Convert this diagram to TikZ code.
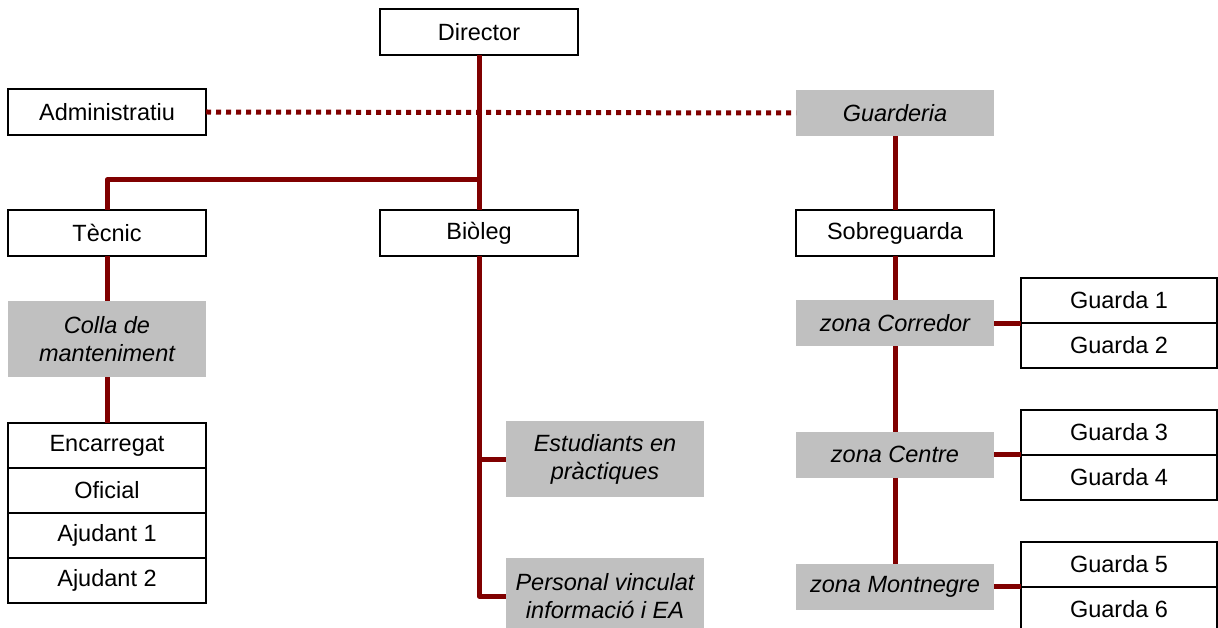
\documentclass[tikz,border=0pt]{standalone}
\usepackage{fontspec}
\setmainfont{Liberation Sans}
\definecolor{linkred}{RGB}{128,0,0}
\definecolor{boxgray}{RGB}{192,192,192}
\tikzset{
  post/.style={draw, line width=2pt, fill=white, minimum width=198pt, minimum height=46pt,
    inner sep=0pt, outer sep=0pt, font=\fontsize{23.5}{28}\selectfont},
  unit/.style={fill=boxgray, minimum width=198pt, minimum height=46pt, inner sep=0pt,
    outer sep=0pt, align=center, font=\fontsize{23.5}{28}\selectfont\itshape},
  link/.style={draw=linkred, line width=5pt, line join=round},
  dotlink/.style={draw=linkred, line width=5pt, dash pattern=on 5pt off 5pt}
}
\begin{document}
\begin{tikzpicture}[x=1pt,y=-1pt]
  \clip (0,0) rectangle (1218,628);

  % top row
  \node[post] (dir)   at (479,32)  {Director};
  \node[post] (adm)   at (107,112) {Administratiu};
  \node[unit] (guard) at (895,113) {Guarderia};

  % second row
  \node[post] (tec)   at (107,233) {Tècnic};
  \node[post] (bio)   at (479,233) {Biòleg};
  \node[post] (sobre) at (895,233) {Sobreguarda};

  % Tècnic branch
  \node[unit, minimum height=76pt] (colla) at (107,339) {Colla de\\manteniment};
  \node[post, minimum height=45pt] (enc) at (107,445.5) {Encarregat};
  \node[post, minimum height=45pt] (ofi) at (107,490.5) {Oficial};
  \node[post, minimum height=45pt] (aj1) at (107,535.5) {Ajudant 1};
  \node[post, minimum height=45pt] (aj2) at (107,580.5) {Ajudant 2};

  % Biòleg branch
  \node[unit, minimum height=76pt] (est)  at (605,459) {Estudiants en\\pràctiques};
  \node[unit, minimum height=76pt] (pers) at (605,596) {Personal vinculat\\informació i EA};

  % zones
  \node[unit] (zcor) at (895,323)   {zona Corredor};
  \node[unit] (zcen) at (895,454.5) {zona Centre};
  \node[unit] (zmon) at (895,586.5) {zona Montnegre};

  % guards
  \node[post, minimum width=196pt, minimum height=45pt] (g1) at (1119,300.5) {Guarda 1};
  \node[post, minimum width=196pt, minimum height=45pt] (g2) at (1119,345.5) {Guarda 2};
  \node[post, minimum width=196pt, minimum height=45pt] (g3) at (1119,432)   {Guarda 3};
  \node[post, minimum width=196pt, minimum height=45pt] (g4) at (1119,477)   {Guarda 4};
  \node[post, minimum width=196pt, minimum height=45pt] (g5) at (1119,564.5) {Guarda 5};
  \node[post, minimum width=196pt, minimum height=45pt] (g6) at (1119,609.5) {Guarda 6};

  % Director--Biòleg, Director--Tècnic
  \coordinate (split) at (479,180);
  \draw[link] (dir.south) -- (bio.north);
  \draw[link] (split) -| (tec.north);
  \draw[dotlink] (adm.east) -- (guard.west);

  % Tècnic--Colla--Encarregat
  \draw[link] (tec.south) -- (colla.north);
  \draw[link] (colla.south) -- (enc.north);

  % Biòleg--Estudiants, Personal
  \draw[link] (bio.south) |- (pers.west);
  \draw[link] (bio.south |- est.west) -- (est.west);

  % Guarderia--Sobreguarda--zones
  \draw[link] (guard.south) -- (sobre.north);
  \draw[link] (sobre.south) -- (zcor.north);
  \draw[link] (zcor.south) -- (zcen.north);
  \draw[link] (zcen.south) -- (zmon.north);

  % zones--guards
  \draw[link] (zcor.east) -- (zcor.east -| g1.west);
  \draw[link] (zcen.east) -- (zcen.east -| g3.west);
  \draw[link] (zmon.east) -- (zmon.east -| g5.west);
\end{tikzpicture}
\end{document}
